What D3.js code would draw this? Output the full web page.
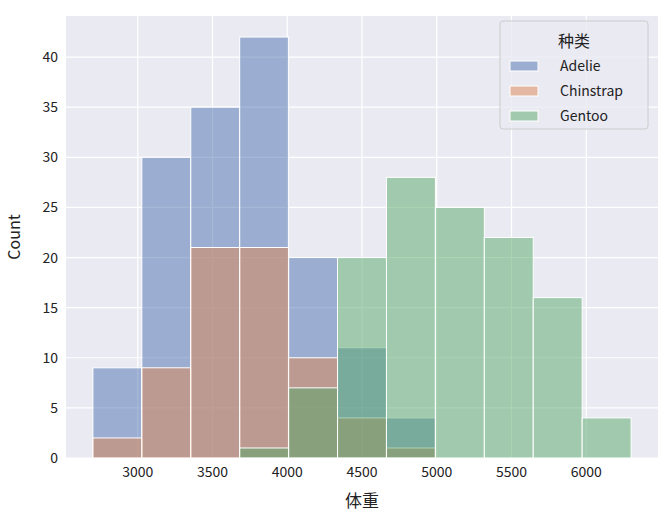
<!DOCTYPE html>
<html><head><meta charset="utf-8">
<script src="https://cdn.jsdelivr.net/npm/d3@7"></script>
<style>body{margin:0;background:#fff}text{font-family:"Noto Sans CJK SC","DejaVu Sans",sans-serif}</style>
</head><body><script>
var width = 666, height = 519;
var species = ["Adelie", "Chinstrap", "Gentoo"];
var colors = ["#4c72b0", "#dd8452", "#55a868"];
var binStart = 2700, binEnd = 6300, nBins = 11;
var adelie = [9, 30, 35, 42, 20, 11, 4, 0, 0, 0, 0];
var chinstrap = [2, 9, 21, 21, 10, 4, 1, 0, 0, 0, 0];
var gentoo = [0, 0, 0, 1, 7, 20, 28, 25, 22, 16, 4];
var counts = [adelie, chinstrap, gentoo];
var xTicks = [3000, 3500, 4000, 4500, 5000, 5500, 6000];
var yTicks = [0, 5, 10, 15, 20, 25, 30, 35, 40];

var m = {left: 66, right: 8, top: 16, bottom: 61};
var x = d3.scaleLinear().domain([2520, 6480]).range([m.left, width - m.right]);
var y = d3.scaleLinear().domain([0, 44.1]).range([height - m.bottom, m.top]);
var bw = (binEnd - binStart) / nBins;

var svg = d3.select("body").append("svg").attr("width", width).attr("height", height);
svg.append("rect").attr("x", m.left).attr("y", m.top)
    .attr("width", width - m.left - m.right).attr("height", height - m.top - m.bottom)
    .attr("fill", "#eaeaf2");

// grid
svg.selectAll(".gx").data(xTicks).enter().append("line")
    .attr("x1", d => x(d)).attr("x2", d => x(d)).attr("y1", m.top).attr("y2", height - m.bottom)
    .attr("stroke", "#fff").attr("stroke-width", 1.2);
svg.selectAll(".gy").data(yTicks).enter().append("line")
    .attr("y1", d => y(d)).attr("y2", d => y(d)).attr("x1", m.left).attr("x2", width - m.right)
    .attr("stroke", "#fff").attr("stroke-width", 1.2);

// bars
counts.forEach(function(c, si) {
  svg.append("g").selectAll("rect").data(c).enter().append("rect")
      .filter(d => d > 0)
      .attr("x", (d, i) => x(binStart + bw * c.indexOf(d) * 0))
      .each(function(d, i) {});
});
svg.selectAll("g").remove();
counts.forEach(function(c, si) {
  var g = svg.append("g");
  c.forEach(function(d, i) {
    if (d <= 0) return;
    g.append("rect")
      .attr("x", x(binStart + bw * i)).attr("width", x(binStart + bw * (i + 1)) - x(binStart + bw * i))
      .attr("y", y(d)).attr("height", y(0) - y(d))
      .attr("fill", colors[si]).attr("fill-opacity", 0.5)
      .attr("stroke", "#fff").attr("stroke-width", 1);
  });
});

// tick labels
svg.selectAll(".tx").data(xTicks).enter().append("text")
    .attr("x", d => x(d)).attr("y", height - m.bottom + 19).attr("text-anchor", "middle")
    .attr("font-size", 14).attr("fill", "#222").text(d => d);
svg.selectAll(".ty").data(yTicks).enter().append("text")
    .attr("x", m.left - 8).attr("y", d => y(d) + 5).attr("text-anchor", "end")
    .attr("font-size", 14).attr("fill", "#222").text(d => d);
svg.append("text").attr("x", (m.left + width - m.right) / 2).attr("y", height - 12)
    .attr("text-anchor", "middle").attr("font-size", 17).attr("fill", "#222").text("体重");
svg.append("text").attr("transform", "translate(20," + ((m.top + height - m.bottom) / 2) + ") rotate(-90)")
    .attr("text-anchor", "middle").attr("font-size", 16).attr("fill", "#222").text("Count");

// legend
var lg = svg.append("g").attr("transform", "translate(500,21)");
lg.append("rect").attr("width", 148).attr("height", 108).attr("rx", 3)
    .attr("fill", "#eaeaf2").attr("fill-opacity", 0.8).attr("stroke", "#ccc");
lg.append("text").attr("x", 74).attr("y", 26).attr("text-anchor", "middle")
    .attr("font-size", 16).attr("fill", "#222").text("种类");
species.forEach(function(s, i) {
  lg.append("rect").attr("x", 10).attr("y", 40 + i * 25).attr("width", 28).attr("height", 10)
      .attr("fill", colors[i]).attr("fill-opacity", 0.5).attr("stroke", "#fff");
  lg.append("text").attr("x", 60).attr("y", 50 + i * 25).attr("font-size", 14)
      .attr("fill", "#222").text(s);
});
</script></body></html>
